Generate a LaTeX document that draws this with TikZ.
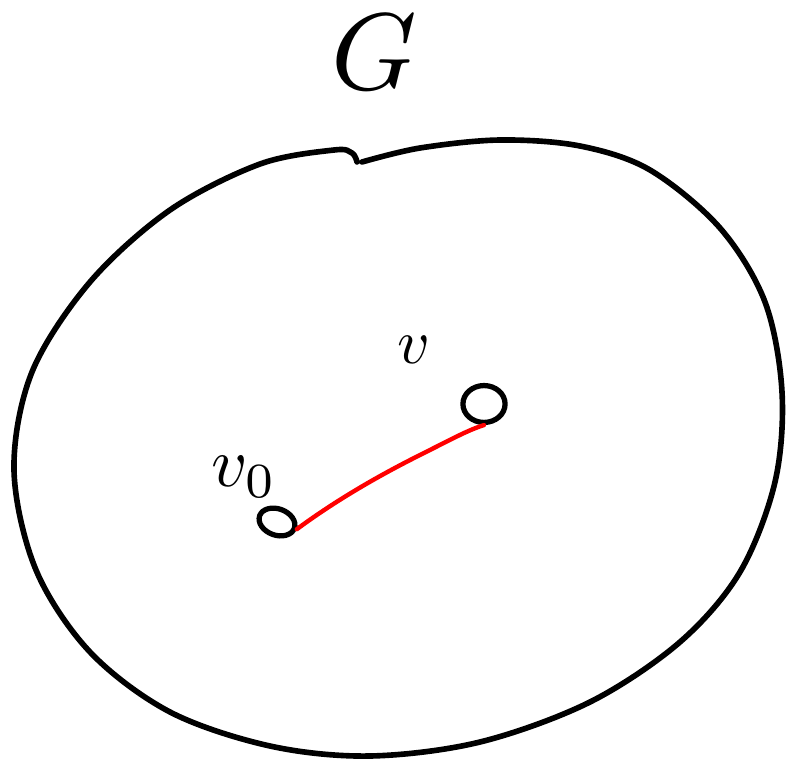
\documentclass[tikz,border=0pt]{standalone}
\usepackage{amsmath,amssymb}
\usepackage{xcolor}
\usetikzlibrary{positioning,calc,shapes.geometric}

\begin{document}
\begin{tikzpicture}[x=0.02cm,y=-0.02cm,line cap=round,line join=round,
    stroke/.style={line width=3.2pt,black},
    vertex/.style={draw,line width=3pt,ellipse,inner sep=0pt},
    pathline/.style={line width=2.5pt,red}]
  \useasboundingbox (0,0) rectangle (787,763);

  % the graph G, drawn as one closed blob with a small kink on top
  \draw[stroke] plot[smooth,tension=0.55] coordinates {
      (362,162) (420,148) (500,140) (580,146) (650,170) (720,228)
      (765,302) (782,392) (775,482) (740,572) (680,642) (590,702)
      (480,742) (370,756) (270,746) (170,712) (90,652) (36,570)
      (14,470) (32,372) (90,282) (170,210) (260,164) (334,150)
      (352,153) (357,162)};
  \node[scale=6.2] (G) at (374,52) {$G$};

  % the two vertices
  \node[vertex,minimum width=21pt,minimum height=15pt,rotate=-20] (v0) at (277,522) {};
  \node[vertex,minimum width=24pt,minimum height=21pt] (v) at (484,404) {};
  \node[scale=4,above left=-9pt and -20pt of v0] (v0lbl) {$v_0$};
  \node[scale=3.6,above left=2pt and 8pt of v] (vlbl) {$v$};

  % path from v0 to v
  \draw[pathline] (v0.east) .. controls (320,512) and (360,485) .. (420,455)
                  .. controls (450,440) and (468,430) .. (v.south);
\end{tikzpicture}
\end{document}
